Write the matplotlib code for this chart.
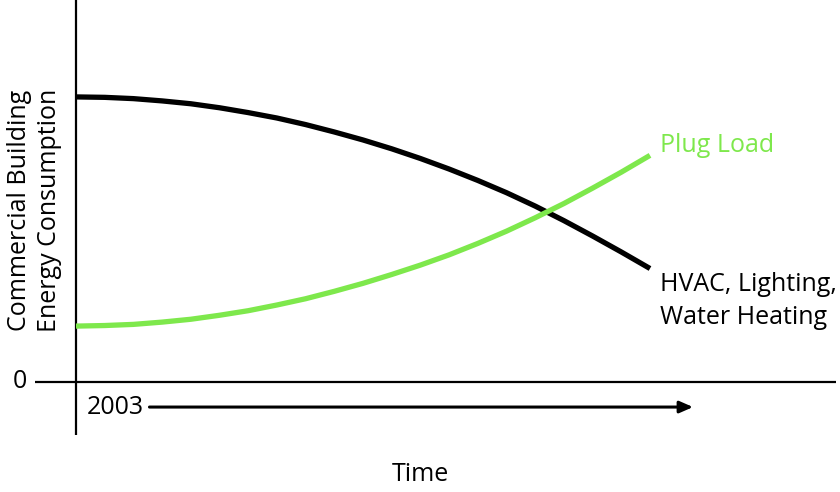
import numpy as np
import matplotlib.pyplot as plt

# Conceptual chart: energy use over time since 2003 (arbitrary units)
time = [0, 0.5, 1, 1.5, 2, 2.5, 3, 3.5, 4, 4.5, 5,
        5.5, 6, 6.5, 7, 7.5, 8, 8.5, 9, 9.5, 10]
hvac = [10.0, 9.985, 9.94, 9.86, 9.76, 9.62, 9.45, 9.26, 9.03, 8.77, 8.49,
        8.18, 7.84, 7.47, 7.07, 6.64, 6.17, 5.66, 5.12, 4.56, 3.98]
plug = [1.96, 1.98, 2.02, 2.10, 2.20, 2.34, 2.50, 2.70, 2.92, 3.18, 3.46,
        3.77, 4.10, 4.46, 4.86, 5.29, 5.76, 6.26, 6.80, 7.36, 7.95]

hvac_label = "HVAC, Lighting,\nWater Heating"
plug_label = "Plug Load"
ylabel = "Commercial Building\nEnergy Consumption"
xlabel = "Time"
start_year = "2003"

green = '#7ee84c'
plt.rcParams['font.family'] = ['Open Sans', 'DejaVu Sans']
fs = 18

fig = plt.figure(figsize=(8.4, 4.92), dpi=100)
ax = fig.add_axes([0, 0, 1, 1])
ax.set_xlim(-1.324, 13.31)
ax.set_ylim(-3.86, 13.40)
ax.axis('off')

# axes lines
ax.plot([0, 0], [-1.86, 13.4], color='black', lw=1.6, solid_capstyle='butt')
ax.plot([-0.714, 13.24], [0, 0], color='black', lw=1.6, solid_capstyle='butt')

# curves
ax.plot(time, hvac, color='black', lw=3.8, solid_capstyle='butt', solid_joinstyle='round')
ax.plot(time, plug, color=green, lw=3.8, solid_capstyle='butt', solid_joinstyle='round')

# curve labels
ax.text(10.17, 8.3, plug_label, color=green, fontsize=fs, ha='left', va='center')
ax.text(10.17, 2.85, hvac_label, color='black', fontsize=fs, ha='left', va='center',
        linespacing=1.4)

# time arrow
ax.annotate('', xy=(10.75, -0.88), xytext=(1.28, -0.88),
            arrowprops=dict(arrowstyle='-|>,head_length=0.8,head_width=0.35',
                            color='black', lw=2.2, shrinkA=0, shrinkB=0))
ax.text(0.68, -0.88, start_year, fontsize=fs, ha='center', va='center')

ax.text(-0.97, 0, "0", fontsize=fs, ha='center', va='center')
ax.text(6.0, -3.26, xlabel, fontsize=fs, ha='center', va='center')
ax.text(-0.72, 6.03, ylabel, fontsize=fs, ha='center', va='center', rotation=90,
        linespacing=1.25)

fig.savefig('out.png', dpi=100, facecolor='white')
